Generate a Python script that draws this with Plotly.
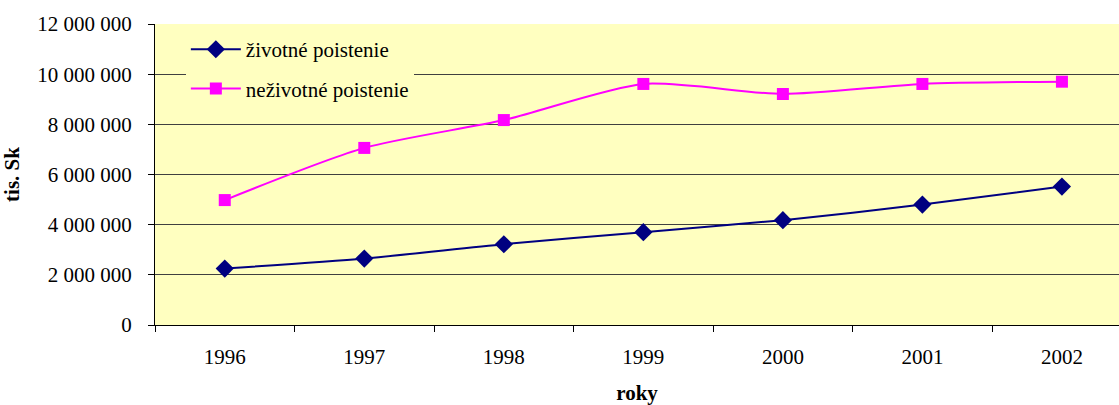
import plotly.graph_objects as go

years = ["1996", "1997", "1998", "1999", "2000", "2001", "2002"]
zivotne = [2250000, 2650000, 3220000, 3700000, 4180000, 4800000, 5520000]
nezivotne = [4980000, 7060000, 8170000, 9610000, 9210000, 9610000, 9700000]
y_ticks = [0, 2000000, 4000000, 6000000, 8000000, 10000000, 12000000]
y_labels = ["0", "2 000 000", "4 000 000", "6 000 000", "8 000 000", "10 000 000", "12 000 000"]

FONT = "Liberation Serif"

fig = go.Figure()
fig.add_trace(go.Scatter(
    x=years, y=zivotne, name="životné poistenie", mode="lines+markers",
    line=dict(color="#000080", width=2, shape="spline", smoothing=0.7),
    marker=dict(symbol="diamond", size=14, color="#000080"),
    legendgroup="a",
))
fig.add_trace(go.Scatter(
    x=years, y=nezivotne, name="neživotné poistenie", mode="lines+markers",
    line=dict(color="#FF00FF", width=2, shape="spline", smoothing=0.7),
    marker=dict(symbol="square", size=12, color="#FF00FF"),
    legendgroup="b",
))

fig.update_layout(
    width=1119, height=405,
    margin=dict(l=155, r=0, t=24, b=80),
    paper_bgcolor="white",
    plot_bgcolor="#FFFFC0",
    font=dict(family=FONT, size=21, color="black"),
    showlegend=True,
    legend=dict(
        x=0.032, y=0.983, xanchor="left", yanchor="top",
        bgcolor="#FFFFC0", borderwidth=0,
        font=dict(family=FONT, size=21, color="black"),
        traceorder="grouped", tracegroupgap=9, itemwidth=50,
    ),
    xaxis=dict(
        type="category", range=[-0.5, 6.409],
        tickson="boundaries", ticks="outside", ticklen=6, tickcolor="black",
        showline=True, linecolor="black", linewidth=1,
        showgrid=False, zeroline=False,
        ticklabelstandoff=13,
        title=dict(text="<b>roky</b>", font=dict(family=FONT, size=21), standoff=22),
    ),
    yaxis=dict(
        range=[0, 12000000], tickvals=y_ticks, ticktext=y_labels,
        ticks="outside", ticklen=6, tickcolor="black",
        showline=True, linecolor="black", linewidth=1,
        showgrid=True, gridcolor="#404040", gridwidth=1, zeroline=False,
        ticklabelstandoff=12,
        title=dict(text="<b>tis. Sk</b>", font=dict(family=FONT, size=21), standoff=12),
    ),
)

fig.write_html("out.html", config={"displayModeBar": False},
               post_script="document.body.style.margin='0';")
